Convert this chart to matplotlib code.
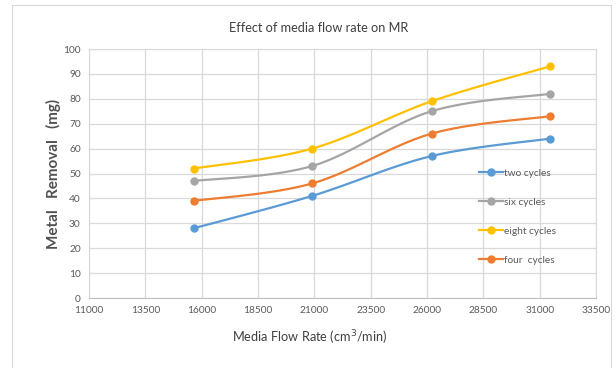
import numpy as np
import matplotlib
matplotlib.use("Agg")
import matplotlib.pyplot as plt
from matplotlib.patches import Rectangle

plt.rcParams['font.family'] = ['Lato', 'DejaVu Sans']

# media flow rate (cm3/min) and metal removal (mg)
flow = [15650, 20900, 26200, 31450]
two_cycles = [28, 41, 57, 64]
six_cycles = [47, 53, 75, 82]
eight_cycles = [52, 60, 79, 93]
four_cycles = [39, 46, 66, 73]

series = [
    ('two cycles', two_cycles, '#5B9BD5'),
    ('six cycles', six_cycles, '#A5A5A5'),
    ('eight cycles', eight_cycles, '#FFC000'),
    ('four  cycles', four_cycles, '#ED7D31'),
]


def smooth(x, y, n=40):
    # Catmull-Rom style bezier smoothing, like spreadsheet "smoothed line"
    x = np.asarray(x, float)
    y = np.asarray(y, float)
    px = np.concatenate([[x[0]], x, [x[-1]]])
    py = np.concatenate([[y[0]], y, [y[-1]]])
    xs, ys = [], []
    t = np.linspace(0, 1, n)
    for i in range(1, len(px) - 2):
        p0 = np.array([px[i], py[i]])
        p3 = np.array([px[i + 1], py[i + 1]])
        p1 = p0 + (np.array([px[i + 1], py[i + 1]]) - np.array([px[i - 1], py[i - 1]])) / 6
        p2 = p3 - (np.array([px[i + 2], py[i + 2]]) - np.array([px[i], py[i]])) / 6
        b = ((1 - t) ** 3)[:, None] * p0 + (3 * (1 - t) ** 2 * t)[:, None] * p1 \
            + (3 * (1 - t) * t ** 2)[:, None] * p2 + (t ** 3)[:, None] * p3
        xs.extend(b[:, 0])
        ys.extend(b[:, 1])
    return xs, ys


fig = plt.figure(figsize=(6.16, 3.68), dpi=100)
fig.patches.append(Rectangle((12 / 616, -0.01), 599 / 616, 1 - 5 / 368 + 0.01,
                             transform=fig.transFigure, fill=False,
                             edgecolor='#D9D9D9', linewidth=0.8))

ax = fig.add_axes([89 / 616, 1 - 298 / 368, (596 - 89) / 616, (298 - 49) / 368])

for name, vals, col in series:
    sx, sy = smooth(flow, vals)
    ax.plot(sx, sy, color=col, linewidth=1.6, zorder=3)
    ax.plot(flow, vals, 'o', color=col, markersize=5, zorder=4)
    ax.plot([], [], '-o', color=col, linewidth=1.6, markersize=5, label=name)

ax.set_xlim(11000, 33500)
ax.set_ylim(0, 100)
ax.set_xticks(np.arange(11000, 33501, 2500))
ax.set_yticks(np.arange(0, 101, 10))
ax.grid(True, color='#D9D9D9', linewidth=0.9)
ax.set_axisbelow(True)
ax.tick_params(length=0, labelsize=7.3, colors='#595959', pad=6)
for s in ax.spines.values():
    s.set_color('#D9D9D9')
ax.spines['bottom'].set_color('#BFBFBF')

leg = ax.legend(loc='upper left', bbox_to_anchor=(0.762, 0.535), frameon=False,
                fontsize=7.3, labelspacing=1.95, handlelength=2.3, handletextpad=0.1,
                borderaxespad=0)
for t in leg.get_texts():
    t.set_color('#595959')

fig.text(319 / 616, 1 - 28 / 368, 'Effect of media flow rate on MR', ha='center',
         va='center', fontsize=9.2, color='#404040')
fig.text(53 / 616, 1 - 174 / 368, 'Metal   Removal   (mg)', rotation=90, ha='center',
         va='center', fontsize=11, fontweight='bold', color='#505050')
fig.text(310 / 616, 1 - 338 / 368, 'Media Flow Rate (cm$^3$/min)', ha='center',
         va='center', fontsize=9.2, color='#404040')

fig.savefig('out.png', dpi=100)
